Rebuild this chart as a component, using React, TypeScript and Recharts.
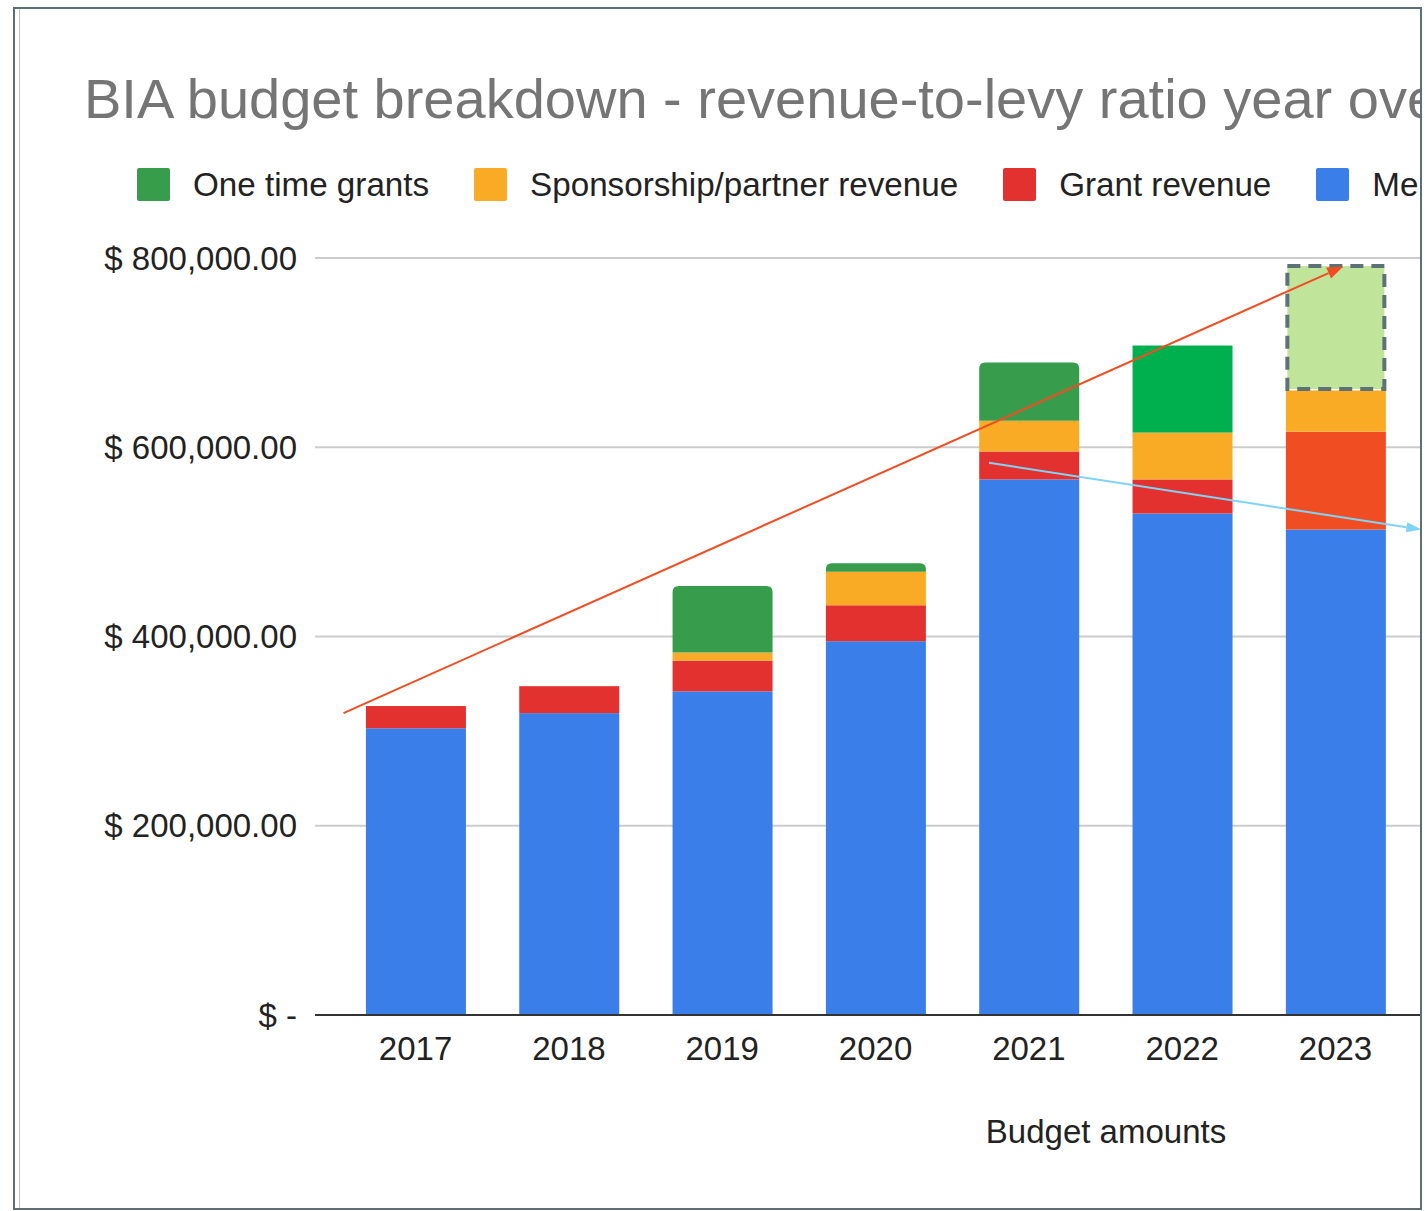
import React from "react";
import { BarChart, Bar, XAxis, YAxis, CartesianGrid, ReferenceLine } from "recharts";

const YEARS = ["2017", "2018", "2019", "2020", "2021", "2022", "2023"];
const MEMBER_LEVY = [303000, 319000, 342000, 395000, 566000, 530000, 513000];
const GRANT_REVENUE = [23500, 28500, 32500, 38000, 29500, 36000, 103500];
const SPONSORSHIP = [0, 0, 8500, 35500, 32500, 49500, 43500];
const ONE_TIME_GRANTS = [0, 0, 70500, 8800, 61500, 92000, 133000];
const Y_TICKS = [0, 200000, 400000, 600000, 800000];

// hand-drawn annotation arrows, in data units (x = year index)
const RED_ARROW = [{ x: -0.47, y: 319000 }, { x: 6.05, y: 791000 }];
const BLUE_ARROW = [{ x: 3.74, y: 583500 }, { x: 6.56, y: 513000 }];

const FONT = '"Liberation Sans", Arial, sans-serif';

const SERIES = [
  { key: "levy", name: "Member levy", color: "#3a7ee9", values: MEMBER_LEVY },
  { key: "grant", name: "Grant revenue", color: "#e3312f", values: GRANT_REVENUE },
  { key: "sponsor", name: "Sponsorship/partner revenue", color: "#f9ab25", values: SPONSORSHIP },
  { key: "oneTime", name: "One time grants", color: "#389c4d", values: ONE_TIME_GRANTS },
];

// segments that were recoloured by hand in the screenshot
const OVERRIDES: Record<string, Record<string, { fill: string; dashed?: boolean }>> = {
  oneTime: { "2022": { fill: "#00b04f" }, "2023": { fill: "#c1e49b", dashed: true } },
  grant: { "2023": { fill: "#f04d22" } },
};

const data = YEARS.map((year, i) => {
  const row: any = { idx: i, year };
  SERIES.forEach((s) => (row[s.key] = s.values[i]));
  return row;
});

const fmtMoney = (v: number) =>
  v === 0 ? "$ -" : "$ " + v.toLocaleString("en-US", { minimumFractionDigits: 2, maximumFractionDigits: 2 });

const segmentShape = (key: string, color: string, rounded: boolean) => (props: any) => {
  const { x, y, width, height, payload } = props;
  if (!height || height <= 0) return <g />;
  const o = OVERRIDES[key]?.[payload.year];
  const fill = o?.fill ?? color;
  if (o?.dashed) {
    return (
      <rect x={x + 1.5} y={y + 1.5} width={width - 3} height={height - 3} fill={fill}
        stroke="#5c7276" strokeWidth={4} strokeDasharray="13 8" />
    );
  }
  const r = rounded && !o ? Math.min(6, height) : 0;
  if (!r) return <rect x={x} y={y} width={width} height={height} fill={fill} />;
  const d = `M${x},${y + height} L${x},${y + r} Q${x},${y} ${x + r},${y} L${x + width - r},${y} Q${x + width},${y} ${x + width},${y + r} L${x + width},${y + height} Z`;
  return <path d={d} fill={fill} />;
};

const arrowShape = (color: string, len: number, half: number) => (props: any) => {
  const { x1, y1, x2, y2 } = props;
  const a = Math.atan2(y2 - y1, x2 - x1);
  const bx = x2 - len * Math.cos(a);
  const by = y2 - len * Math.sin(a);
  const px = -Math.sin(a) * half;
  const py = Math.cos(a) * half;
  return (
    <g>
      <line x1={x1} y1={y1} x2={bx} y2={by} stroke={color} strokeWidth={2} />
      <polygon points={`${x2},${y2} ${bx + px},${by + py} ${bx - px},${by - py}`} fill={color} />
    </g>
  );
};

export default function App() {
  const legendItems = [...SERIES].reverse();
  return (
    <div style={{ position: "absolute", left: 13, top: 7, width: 1409, height: 1203, boxSizing: "border-box",
      border: "2px solid #5c7074", overflow: "hidden", background: "#fff" }}>
      <div style={{ position: "absolute", left: 4, top: 0, bottom: 0, borderLeft: "1px solid #c4c4c4" }} />
      <div style={{ position: "absolute", left: -15, top: -9, width: 1940, height: 1211, fontFamily: FONT }}>
        <div style={{ position: "absolute", left: 84, top: 71, fontSize: 56, lineHeight: "56px",
          color: "#757575", whiteSpace: "nowrap" }}>
          BIA budget breakdown - revenue-to-levy ratio year over year
        </div>
        <div style={{ position: "absolute", left: 137, top: 166, height: 36, display: "flex",
          alignItems: "center", whiteSpace: "nowrap" }}>
          {legendItems.map((s) => (
            <div key={s.key} style={{ display: "flex", alignItems: "center", marginRight: 45 }}>
              <div style={{ width: 33, height: 33, background: s.color, borderRadius: 2, marginRight: 23 }} />
              <span style={{ fontSize: 33.2, lineHeight: "33px", color: "#222" }}>{s.name}</span>
            </div>
          ))}
        </div>
        <div style={{ position: "absolute", left: 0, top: 0 }}>
          <BarChart width={1940} height={1211} data={data}
            margin={{ top: 258, right: 43, bottom: 63, left: 0 }}>
            <CartesianGrid vertical={false} stroke="#cccccc" strokeWidth={2} />
            <XAxis dataKey="idx" type="number" domain={[-0.656, 9.662]} allowDataOverflow
              ticks={YEARS.map((_, i) => i)} tickFormatter={(v) => YEARS[v] ?? ""}
              tick={{ fontSize: 33, fill: "#222", fontFamily: FONT }} tickSize={0} tickMargin={22}
              axisLine={{ stroke: "#333", strokeWidth: 2 }} height={133}
              label={{ value: "Budget amounts", position: "insideBottom", offset: 5, fontSize: 33,
                fill: "#222", fontFamily: FONT }} />
            <YAxis domain={[0, 800000]} ticks={Y_TICKS} tickFormatter={fmtMoney} width={315}
              tick={{ fontSize: 33, fill: "#222", fontFamily: FONT }} tickSize={0} tickMargin={18}
              axisLine={false} tickLine={false} />
            {SERIES.map((s, i) => (
              <Bar key={s.key} dataKey={s.key} name={s.name} stackId="a" fill={s.color} barSize={100}
                isAnimationActive={false}
                shape={segmentShape(s.key, s.color, i === SERIES.length - 1)} />
            ))}
            <ReferenceLine segment={RED_ARROW} ifOverflow="visible" stroke="#f04d22"
              shape={arrowShape("#f04d22", 16, 6)} />
            <ReferenceLine segment={BLUE_ARROW} ifOverflow="visible" stroke="#7fd3f7"
              shape={arrowShape("#7fd3f7", 15, 5)} />
          </BarChart>
        </div>
      </div>
    </div>
  );
}
